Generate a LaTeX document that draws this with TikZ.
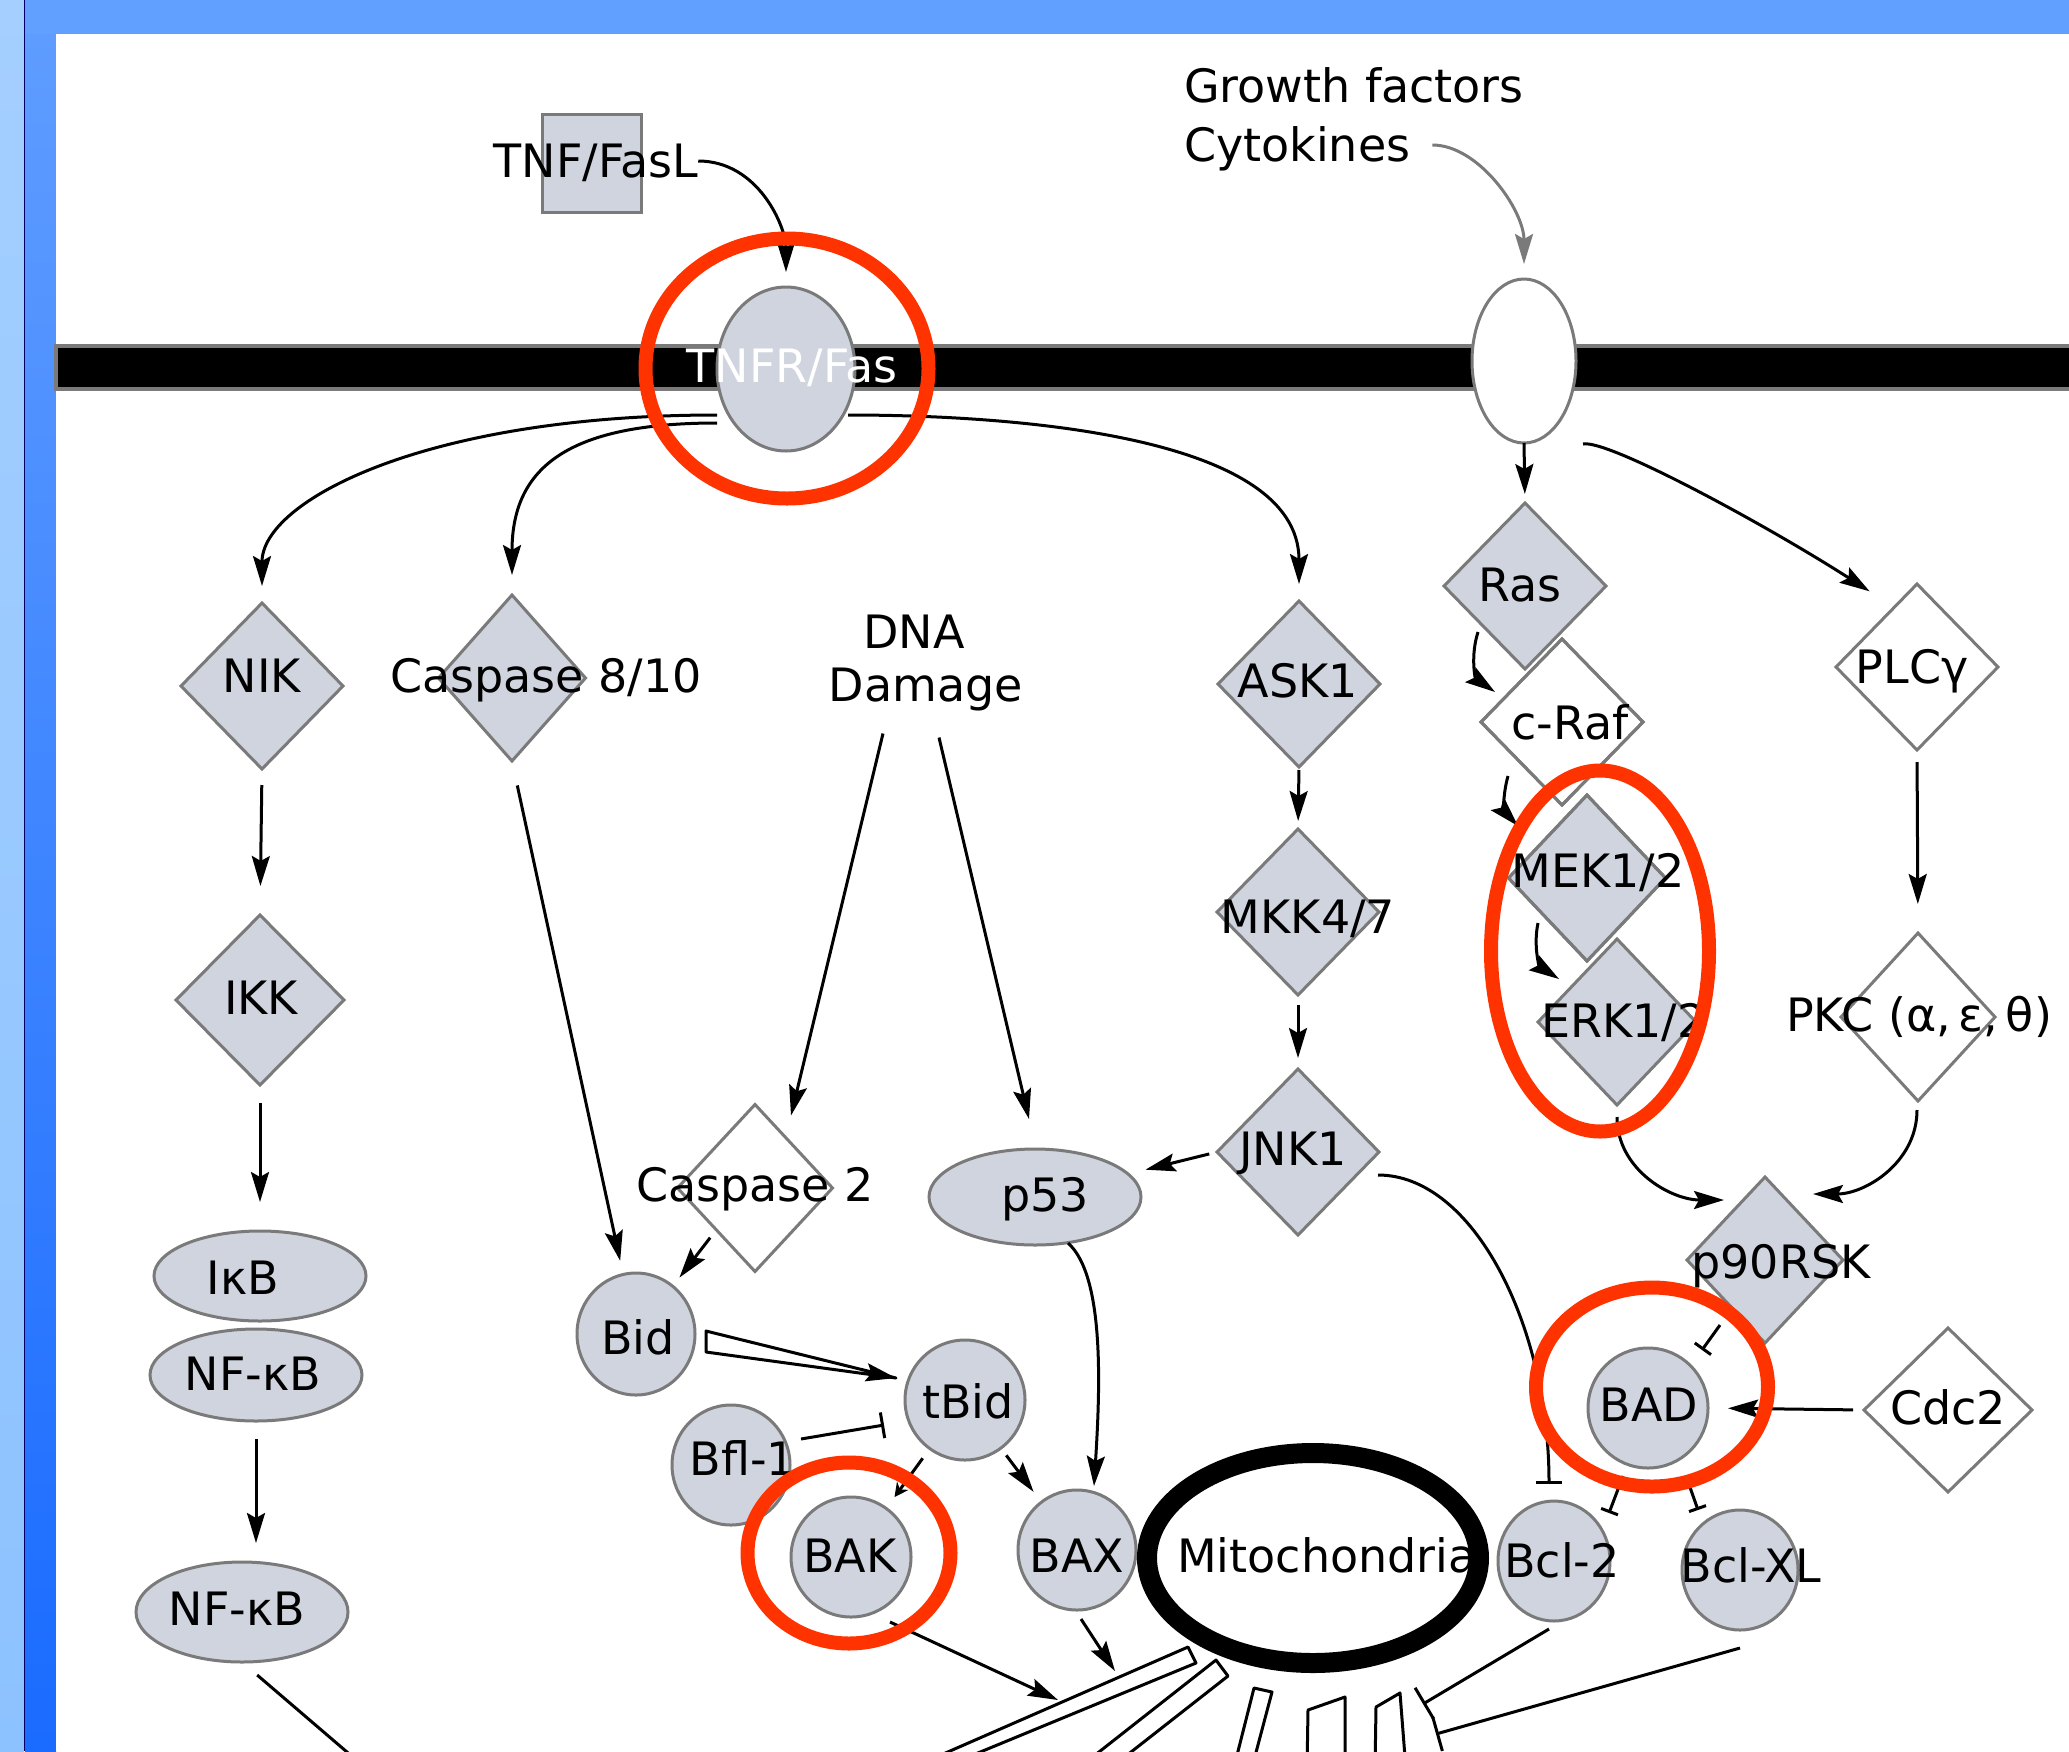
\documentclass[tikz,border=0pt]{standalone}
\usepackage{fontspec}
\setmainfont{DejaVu Sans}
\usetikzlibrary{shapes.geometric,arrows.meta,calc}
\definecolor{gfill}{HTML}{D0D4DE}
\definecolor{gline}{HTML}{7A7A7A}
\definecolor{redann}{HTML}{FF3300}
\definecolor{bluetop}{HTML}{62A0FF}
\definecolor{bluel1}{HTML}{5E9CFF}
\definecolor{bluel2}{HTML}{1A6BFF}
\definecolor{lightb1}{HTML}{A4CFFF}
\definecolor{lightb2}{HTML}{8CC2FF}
\begin{document}
\begin{tikzpicture}[x=1pt,y=1pt,
  every node/.style={outer sep=0pt},
  gdia/.style={diamond, draw=gline, fill=gfill, line width=3pt, inner sep=0pt, minimum width=162pt, minimum height=166pt},
  wdia/.style={gdia, fill=white},
  gell/.style={ellipse, draw=gline, fill=gfill, line width=3pt, inner sep=0pt},
  lab/.style={font=\fontsize{46}{55}\selectfont, inner sep=0pt, text height=33pt, text depth=0pt},
  con/.style={line width=3pt, draw=black},
  arr/.style={con, -{Stealth[length=30pt,width=18pt,inset=5pt]}},
  inh/.style={con, -{Bar[width=26pt]}},
  redring/.style={draw=redann, line width=14pt},
  outl/.style={draw=gline, line width=3pt}
]
\useasboundingbox (0,0) rectangle (2069,-1751);
\clip (0,0) rectangle (2069,-1751);
% frame
\fill[bluetop] (0,0) rectangle (2069,-1751);
\shade[top color=bluel1, bottom color=bluel2] (25,-34) rectangle (56,-1751);
\shade[top color=lightb1, bottom color=lightb2] (0,0) rectangle (24,-1751);
\draw[black!60!blue, line width=1.5pt] (24.5,0) -- (24.5,-1751);
\fill[white] (56,-34) rectangle (2069,-1751);

% membrane
\filldraw[fill=black, draw=gline, line width=4pt] (56,-346) rectangle (2085,-389);

% ligand and receptors
\node[draw=gline, fill=gfill, line width=3pt, minimum width=99pt, minimum height=98pt, inner sep=0pt] (tnfbox) at (591.5,-163) {};
\node[lab] (tnfl) at (596,-161) {TNF/FasL};
\node[gell, minimum width=138pt, minimum height=164pt] (tnfr) at (786,-369) {};
\node[lab, text=white] (tnfrl) at (792,-366) {TNFR/Fas};
\node[gell, fill=white, minimum width=104pt, minimum height=164pt] (rec) at (1524,-361) {};
\node[lab, anchor=west] (gf) at (1184,-86) {Growth factors};
\node[lab, anchor=west] (cyto) at (1184,-145) {Cytokines};
\node[lab] (dna) at (914,-632) {DNA};
\node[lab] (dmg) at (926,-685) {Damage};

% diamonds
\node[gdia] (nik) at (262,-686) {};
\node[gdia, minimum width=168pt, minimum height=170pt] (ikk) at (260,-1000) {};
\node[gdia, minimum width=147pt] (c810) at (512,-678) {};
\node[gdia] (ask1) at (1299,-684) {};
\node[gdia] (mkk) at (1298,-912) {};
\node[gdia] (jnk) at (1298,-1152) {};
\node[wdia] (craf) at (1562,-722) {};
\node[gdia] (ras) at (1525,-586) {};
\node[gdia, minimum width=157pt] (mek) at (1587,-878) {};
\node[gdia, minimum width=158pt] (erk) at (1617,-1022) {};
\draw[outl] (craf.north) -- (craf.east) -- (craf.south) -- (craf.west) -- cycle;
\draw[outl] (mek.north) -- (mek.east) -- (mek.south) -- (mek.west) -- cycle;
\node[wdia] (plc) at (1917,-667) {};
\node[wdia, minimum width=154pt, minimum height=168pt] (pkc) at (1918,-1017) {};
\node[gdia, minimum width=156pt] (p90) at (1765,-1260) {};
\node[wdia, minimum width=168pt, minimum height=164pt] (cdc2) at (1948,-1410) {};
\node[wdia, minimum width=155pt, minimum height=167pt] (c2) at (755,-1188) {};

% ellipses
\node[gell, minimum width=212pt, minimum height=90pt] (ikb) at (260,-1276) {};
\node[gell, minimum width=212pt, minimum height=92pt] (nfkb1) at (256,-1375) {};
\node[gell, minimum width=212pt, minimum height=100pt] (nfkb2) at (242,-1612) {};
\node[gell, minimum width=118pt, minimum height=122pt] (bid) at (636,-1334) {};
\node[gell, minimum width=120pt, minimum height=120pt] (tbid) at (965,-1400) {};
\node[gell, minimum width=118pt, minimum height=120pt] (bfl) at (731,-1465) {};
\node[gell, minimum width=120pt, minimum height=120pt] (bak) at (851,-1557) {};
\node[gell, minimum width=118pt, minimum height=120pt] (bax) at (1077,-1550) {};
\node[gell, minimum width=212pt, minimum height=96pt] (p53) at (1035,-1197) {};
\node[gell, minimum width=112pt, minimum height=120pt] (bcl2) at (1554,-1561) {};
\node[gell, minimum width=116pt, minimum height=120pt] (bclxl) at (1740,-1570) {};
\node[gell, minimum width=120pt, minimum height=120pt] (bad) at (1648,-1408) {};
\node[lab] (mitol) at (1327,-1556) {Mitochondria};
\node[ellipse, draw=black, line width=20pt, minimum width=332pt, minimum height=210pt, inner sep=0pt] (mito) at (1313,-1558) {};

% labels
\node[lab] (tnik) at (262,-676) {NIK};
\node[lab] (tc810) at (546,-676) {Caspase 8/10};
\node[lab] (tikk) at (261,-998) {IKK};
\node[lab] (task1) at (1298,-681) {ASK1};
\node[lab] (tmkk) at (1308,-917) {MKK4/7};
\node[lab] (tjnk) at (1293,-1149) {JNK1};
\node[lab] (tras) at (1520,-585) {Ras};
\node[lab] (tcraf) at (1570,-723) {c-Raf};
\node[lab] (tmek) at (1598,-871) {MEK1/2};
\node[lab] (terk) at (1624,-1021) {ERK1/2};
\node[lab] (tplc) at (1912,-667) {PLCγ};
\node[lab] (tpkc) at (1919,-1015) {PKC (α,\,ε,\,θ)};
\node[lab] (tp90) at (1781,-1262) {p90RSK};
\node[lab] (tcdc2) at (1948,-1408) {Cdc2};
\node[lab] (tc2) at (755,-1185) {Caspase 2};
\node[lab] (tp53) at (1045,-1195) {p53};
\node[lab] (tikb) at (243,-1278) {IκB};
\node[lab] (tnfkb1) at (253,-1374) {NF-κB};
\node[lab] (tnfkb2) at (237,-1609) {NF-κB};
\node[lab] (tbidl) at (638,-1338) {Bid};
\node[lab] (ttbid) at (968,-1402) {tBid};
\node[lab] (tbfl) at (743,-1459) {Bfl-1};
\node[lab] (tbak) at (850,-1556) {BAK};
\node[lab] (tbax) at (1077,-1556) {BAX};
\node[lab] (tbcl2) at (1562,-1561) {Bcl-2};
\node[lab] (tbclxl) at (1751,-1566) {Bcl-XL};
\node[lab] (tbad) at (1649,-1405) {BAD};

% connectors
\draw[arr, shorten >=15pt] (tnfl.east) to[out=0,in=90] (tnfr.north);
\draw[arr, shorten >=17pt] ($(tnfr.center)+(-69,-46)$) .. controls +(-292,0) and +(0,102) .. (nik.north);
\draw[arr, shorten >=20pt] ($(tnfr.center)+(-69,-54)$) .. controls +(-147,0) and +(0,129) .. (c810.north);
\draw[arr, shorten >=17pt] ($(tnfr.center)+(62,-46)$) .. controls +(150,0) and +(0,169) .. (ask1.north);
\draw[arr, draw=gline, shorten <=22pt, shorten >=15pt] (cyto.east) to[out=0,in=90] (rec.north);
\draw[arr, shorten >=9pt] (rec.south) -- (ras.north);
\draw[arr, shorten >=29pt] ($(rec.center)+(59,-83)$) .. controls +(25,5) and +(-126,81) .. ($(plc.center)+(-23,60)$);
\draw[arr, shorten <=16pt, shorten >=29pt] (nik.south) -- (ikk.north);
\draw[arr, shorten <=18pt, shorten >=29pt] (ikk.south) -- (ikk.south |- ikb.north);
\draw[arr, shorten <=18pt, shorten >=19pt] (nfkb1.south) -- (nfkb1.south |- nfkb2.north);
\coordinate (nfout) at (410,-1806);
\draw[con, shorten <=20pt] (nfkb2.south) -- (nfout);
\draw[arr, shorten <=25pt, shorten >=14pt] (c810.south) -- (bid);
\draw[arr] ($(dmg.south)+(-43,-32)$) -- ($(c2.north)+(36,-11)$);
\draw[arr] ($(dmg.south)+(13,-36)$) -- ($(p53.north)+(-6,30)$);
\draw[arr, shorten <=3pt, shorten >=8pt] (ask1.south) -- (mkk.north);
\draw[arr, shorten <=10pt, shorten >=11pt] (mkk.south) -- (jnk.north);
\draw[arr, shorten <=8pt, shorten >=18pt] (jnk.west) -- (p53);
\draw[inh] ($(jnk.east)+(-1,-23)$) .. controls +(95,0) and +(0,159) .. ($(bcl2.north)+(-5,17)$);
\draw[arr, shorten <=10pt, shorten >=11pt] (c2.south west) -- (bid);
\coordinate (wa) at ($(bid.east)+(11,3)$);
\coordinate (wb) at ($(bid.east)+(11,-18)$);
\coordinate (wt) at ($(tbid.west)+(-9,22)$);
\filldraw[fill=white, draw=black, line width=3pt, line join=round] (wa) -- (wt) -- (wb) -- cycle;
\draw[arr] ($(wt)!30pt!($(wa)!0.5!(wb)$)$) -- (wt);
\draw[inh] ($(bfl.east)+(11,26)$) -- ($(tbid.west)+(-21,-25)$);
\draw[con, -{Stealth[length=14pt,width=14pt]}, shorten <=12pt, shorten >=14pt] (tbid) -- (bak);
\draw[arr, shorten <=9pt, shorten >=13pt] (tbid) -- (bax);
\draw[arr] ($(p53.south)+(33,2)$) .. controls +(37,-33) and +(6,96) .. ($(bax.north)+(17,4)$);
\draw[arr] ($(ras.center)+(-47,-46)$) to[out=-108,in=145] ($(craf.center)+(-67,30)$);
\draw[arr] ($(craf.center)+(-54,-54)$) to[out=-106,in=133] ($(mek.center)+(-69,52)$);
\draw[arr] ($(mek.center)+(-49,-45)$) to[out=-102,in=147] ($(erk.center)+(-58,43)$);
\draw[arr, shorten <=12pt, shorten >=29pt] (plc.south) -- (pkc.north);
\draw[arr] ($(erk.south)+(0,-12)$) to[out=-90,in=180] ($(p90.north)+(-41,-23)$);
\draw[arr] ($(pkc.south)+(-1,-9)$) to[out=-90,in=0] ($(p90.north)+(48,-17)$);
\draw[con, -{Bar[width=20pt]}] ($(p90.center)+(-45,-65)$) -- ($(bad.center)+(54,58)$);
\draw[arr, shorten <=11pt, shorten >=20pt] (cdc2.west) -- (bad.east);
\draw[con, -{Bar[width=18pt]}] ($(bad.center)+(-25,-68)$) -- ($(bcl2.center)+(55,48)$);
\draw[con, -{Bar[width=18pt]}] ($(bad.center)+(38,-68)$) -- ($(bclxl.center)+(-42,60)$);

% hollow bars at the bottom
\filldraw[fill=white, line width=3pt, line join=round] (831,-1803) -- (1188,-1647) -- (1196,-1663) -- (876,-1795) -- cycle;
\filldraw[fill=white, line width=3pt, line join=round] (1062,-1781) -- (1216,-1660) -- (1228,-1676) -- (1094,-1781) -- cycle;
\filldraw[fill=white, line width=3pt, line join=round] (1232,-1775) -- (1254,-1688) -- (1272,-1692) -- (1250,-1775) -- cycle;
\filldraw[fill=white, line width=3pt, line join=round] (1307,-1770) -- (1308,-1710) -- (1345,-1697) -- (1345,-1770) -- cycle;
\filldraw[fill=white, line width=3pt, line join=round] (1375,-1770) -- (1376,-1707) -- (1400,-1693) -- (1406,-1770) -- cycle;
\draw[arr] ($(bak.center)+(39,-65)$) -- (1058,-1700);
\draw[arr] ($(bax.south)+(4,-9)$) -- (1115,-1671);
\coordinate (m5) at (1423,-1704);
\coordinate (m6) at (1436,-1734);
\draw[con, -{Bar[width=36pt]}] ($(bcl2.south)+(-5,-8)$) -- (m5);
\draw[con, -{Bar[width=36pt]}] ($(bclxl.south)+(0,-18)$) -- (m6);

% red annotation rings
\draw[redring] (787,-368.5) ellipse [x radius=141.5, y radius=130];
\draw[redring] (1600,-951) ellipse [x radius=109, y radius=180.5];
\draw[redring] (1652,-1387) ellipse [x radius=116, y radius=99.5];
\draw[redring] (849,-1553) ellipse [x radius=101.5, y radius=90.5];
\end{tikzpicture}
\end{document}
